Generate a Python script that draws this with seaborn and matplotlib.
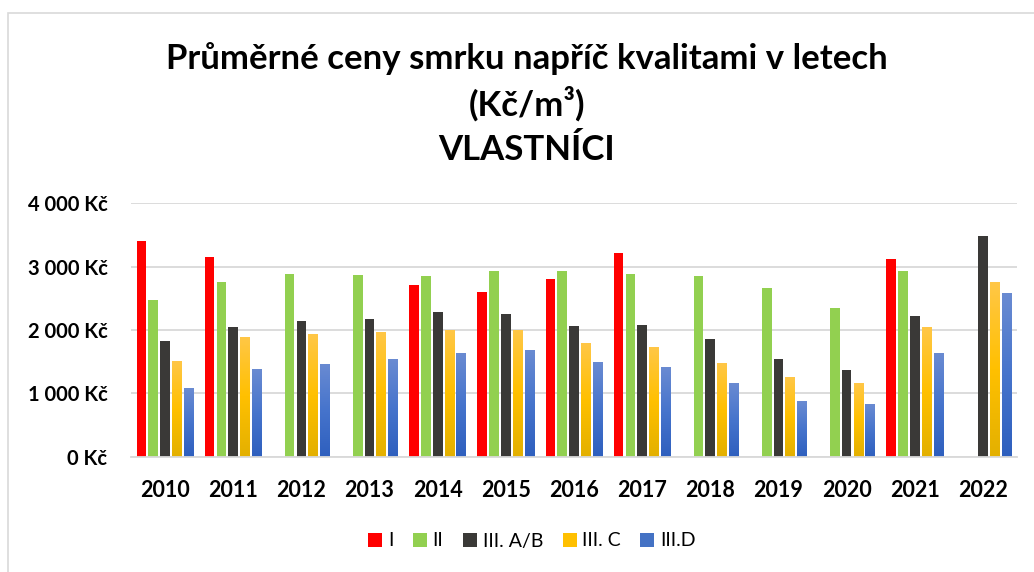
import numpy as np
import pandas as pd
import matplotlib
matplotlib.use("Agg")
import matplotlib.pyplot as plt
import seaborn as sns
from matplotlib.colors import LinearSegmentedColormap
from matplotlib.patches import Rectangle

years = ["2010", "2011", "2012", "2013", "2014", "2015", "2016",
         "2017", "2018", "2019", "2020", "2021", "2022"]
series_names = ["I", "II", "III. A/B", "III. C", "III.D"]
val_I = [3410, 3160, np.nan, np.nan, 2710, 2595, 2805, 3215, np.nan, np.nan, np.nan, 3115, np.nan]
val_II = [2470, 2765, 2885, 2865, 2855, 2935, 2925, 2885, 2855, 2660, 2345, 2925, np.nan]
val_AB = [1820, 2045, 2135, 2180, 2285, 2260, 2065, 2075, 1855, 1545, 1375, 2215, 3485]
val_C = [1510, 1895, 1940, 1970, 2000, 2000, 1795, 1735, 1480, 1260, 1165, 2045, 2760]
val_D = [1085, 1385, 1470, 1540, 1635, 1685, 1495, 1415, 1165, 880, 830, 1635, 2585]
y_ticks = [0, 1000, 2000, 3000, 4000]
y_tick_labels = ["0 Kč", "1 000 Kč", "2 000 Kč", "3 000 Kč", "4 000 Kč"]

colors = {"I": "#FF0000", "II": "#92D050", "III. A/B": "#3A3937",
          "III. C": "#FFC000", "III.D": "#4472C4"}

rows = []
for name, vals in zip(series_names, [val_I, val_II, val_AB, val_C, val_D]):
    for y, v in zip(years, vals):
        rows.append({"year": y, "series": name, "value": v})
df = pd.DataFrame(rows)

sns.set_theme(style="white")
FONT = ["Lato", "DejaVu Sans"]
plt.rcParams["font.family"] = FONT
plt.rcParams["text.color"] = "black"
plt.rcParams["xtick.color"] = "black"
plt.rcParams["ytick.color"] = "black"

fig = plt.figure(figsize=(10.34, 5.72), dpi=100)
ax = fig.add_axes([131 / 1034, 1 - 456.7 / 572, (1017 - 131) / 1034, (456.7 - 203.3) / 572])

sns.barplot(data=df, x="year", y="value", hue="series", hue_order=series_names,
            order=years, palette=colors, width=0.865, gap=0.18, ax=ax,
            legend=True, saturation=1.0, linewidth=0)

# gradient fills for III. C and III.D
grads = {
    "III. C": LinearSegmentedColormap.from_list("c", ["#E3B000", "#FFC000", "#FFC747"]),
    "III.D": LinearSegmentedColormap.from_list("d", ["#2E5FBE", "#4674CC", "#6A8BD2"]),
}
grad_img = np.linspace(0, 1, 256).reshape(-1, 1)
for cont, name in zip(ax.containers, series_names):
    if name in grads:
        for p in cont.patches:
            x0 = p.get_x(); w = p.get_width(); h = p.get_height()
            if not np.isfinite(h) or h <= 0:
                continue
            im = ax.imshow(grad_img, cmap=grads[name], origin="lower",
                           extent=[x0, x0 + w, 0, h], aspect="auto", zorder=p.get_zorder() + 0.1)
            im.set_clip_path(p)

ax.set_xlim(-0.5, 12.5)
ax.set_ylim(0, 4000)
ax.set_yticks(y_ticks)
ax.set_yticklabels(y_tick_labels, fontsize=14.5, fontweight="bold", family=FONT)
ax.set_xticks(range(len(years)))
ax.set_xticklabels(years, fontsize=15.5, fontweight="bold", family=FONT)
ax.tick_params(axis="both", length=0)
ax.tick_params(axis="y", pad=17)
ax.tick_params(axis="x", pad=17)
ax.set_xlabel("")
ax.set_ylabel("")
ax.grid(axis="y", color="#D9D9D9", linewidth=1.3)
ax.set_axisbelow(True)
for s in ["top", "right", "left"]:
    ax.spines[s].set_visible(False)
ax.spines["bottom"].set_color("#D9D9D9")
ax.spines["bottom"].set_linewidth(1.3)

leg = ax.legend(loc="center", bbox_to_anchor=(532 / 1034, 1 - 541 / 572),
                bbox_transform=fig.transFigure, ncol=5, frameon=False,
                fontsize=14, handlelength=0.72, handleheight=0.72,
                columnspacing=1.0, handletextpad=0.3)
for t in leg.get_texts():
    t.set_family(FONT)

title_kw = dict(ha="center", va="center", fontsize=25, fontweight="bold", family=FONT)
fig.text(527 / 1034, 1 - 59 / 572, "Průměrné ceny smrku napříč kvalitami v letech", **title_kw)
fig.text(527 / 1034, 1 - 104 / 572, "(Kč/m³)", **title_kw)
fig.text(527 / 1034, 1 - 150 / 572, "VLASTNÍCI", **title_kw)

fig.patches.append(Rectangle((8 / 1034, -0.05), 1.05, 1 - 13 / 572 + 0.05,
                             transform=fig.transFigure, fill=False,
                             edgecolor="#D9D9D9", linewidth=1.2))

fig.savefig("out.png", dpi=100)
